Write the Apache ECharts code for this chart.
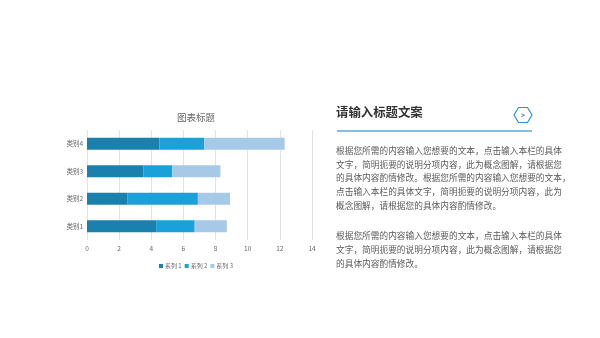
<!DOCTYPE html>
<html><head><meta charset="utf-8">
<script src="https://cdn.jsdelivr.net/npm/echarts@6/dist/echarts.min.js"></script>
<style>html,body{margin:0;padding:0;background:#fff}#c{width:600px;height:338px}</style>
</head><body><div id="c"></div>
<script>
const categories = ['类别1', '类别2', '类别3', '类别4'];
const series1 = [4.3, 2.5, 3.5, 4.5];
const series2 = [2.4, 4.4, 1.8, 2.8];
const series3 = [2.0, 2.0, 3.0, 5.0];
const seriesNames = ['系列 1', '系列 2', '系列 3'];
const xTicks = [0, 2, 4, 6, 8, 10, 12, 14];
const chartTitle = '图表标题';
const panelTitle = '请输入标题文案';
const para1 = ['根据您所需的内容输入您想要的文本，点击输入本栏的具体',
  '文字，简明扼要的说明分项内容，此为概念图解，请根据您',
  '的具体内容酌情修改。根据您所需的内容输入您想要的文本，',
  '点击输入本栏的具体文字，简明扼要的说明分项内容，此为',
  '概念图解，请根据您的具体内容酌情修改。'];
const para2 = ['根据您所需的内容输入您想要的文本，点击输入本栏的具体',
  '文字，简明扼要的说明分项内容，此为概念图解，请根据您',
  '的具体内容酌情修改。'];

const FONT = '"Noto Sans CJK SC", "Noto Sans", sans-serif';
const colors = ['#1a80ae', '#1ba1d9', '#a6c9e7'];
const chart = echarts.init(document.getElementById('c'));
const data = [series1, series2, series3];
chart.setOption({
  animation: false,
  color: colors,
  textStyle: { fontFamily: FONT },
  title: { text: chartTitle, left: 191, top: 108, textAlign: 'center',
    textStyle: { fontSize: 9.5, color: '#666', fontWeight: 'normal', fontFamily: FONT } },
  legend: { data: seriesNames, left: 154, top: 258, itemWidth: 4, itemHeight: 4, itemGap: 3,
    textStyle: { fontSize: 6, color: '#666', fontFamily: FONT, padding: [0, 0, 0, -3] },
    icon: 'rect' },
  grid: { left: 87, right: 288, top: 130, bottom: 98, containLabel: false },
  xAxis: { type: 'value', min: xTicks[0], max: xTicks[xTicks.length - 1], interval: 2,
    axisLine: { show: false }, axisTick: { show: false },
    axisLabel: { fontSize: 6.5, color: '#666', margin: 5 },
    splitLine: { lineStyle: { color: '#e3e3e3', width: 1 } } },
  yAxis: { type: 'category', data: categories,
    axisLine: { show: false }, axisTick: { show: false },
    axisLabel: { fontSize: 6.5, color: '#666', margin: 4 } },
  series: seriesNames.map((n, i) => ({ name: n, type: 'bar', stack: 'total', barWidth: 12, data: data[i] })),
  graphic: [
    { type: 'text', left: 336, top: 106, style: { text: panelTitle, fontSize: 12.4, fontWeight: 'bold', fill: '#333', fontFamily: FONT } },
    { type: 'line', shape: { x1: 337, y1: 131, x2: 532, y2: 131 }, style: { stroke: '#5ba6da', lineWidth: 1.6 } },
    { type: 'polygon', shape: { points: [[514, 115], [518.5, 107.5], [527.5, 107.5], [532, 115], [527.5, 122.5], [518.5, 122.5]] },
      style: { fill: '#fff', stroke: '#2b93d5', lineWidth: 1.2 } },
    { type: 'text', x: 523, y: 115, style: { text: '>', fontSize: 7, fontWeight: 'bold', fill: '#555', align: 'center', verticalAlign: 'middle', fontFamily: FONT } },
    { type: 'text', x: 336, y: 143.5, style: { text: para1.join('\n'), fontSize: 8.7, lineHeight: 13.8, fill: '#5a5a5a', fontFamily: FONT } },
    { type: 'text', x: 336, y: 229, style: { text: para2.join('\n'), fontSize: 8.7, lineHeight: 13.8, fill: '#5a5a5a', fontFamily: FONT } }
  ]
});
</script></body></html>
